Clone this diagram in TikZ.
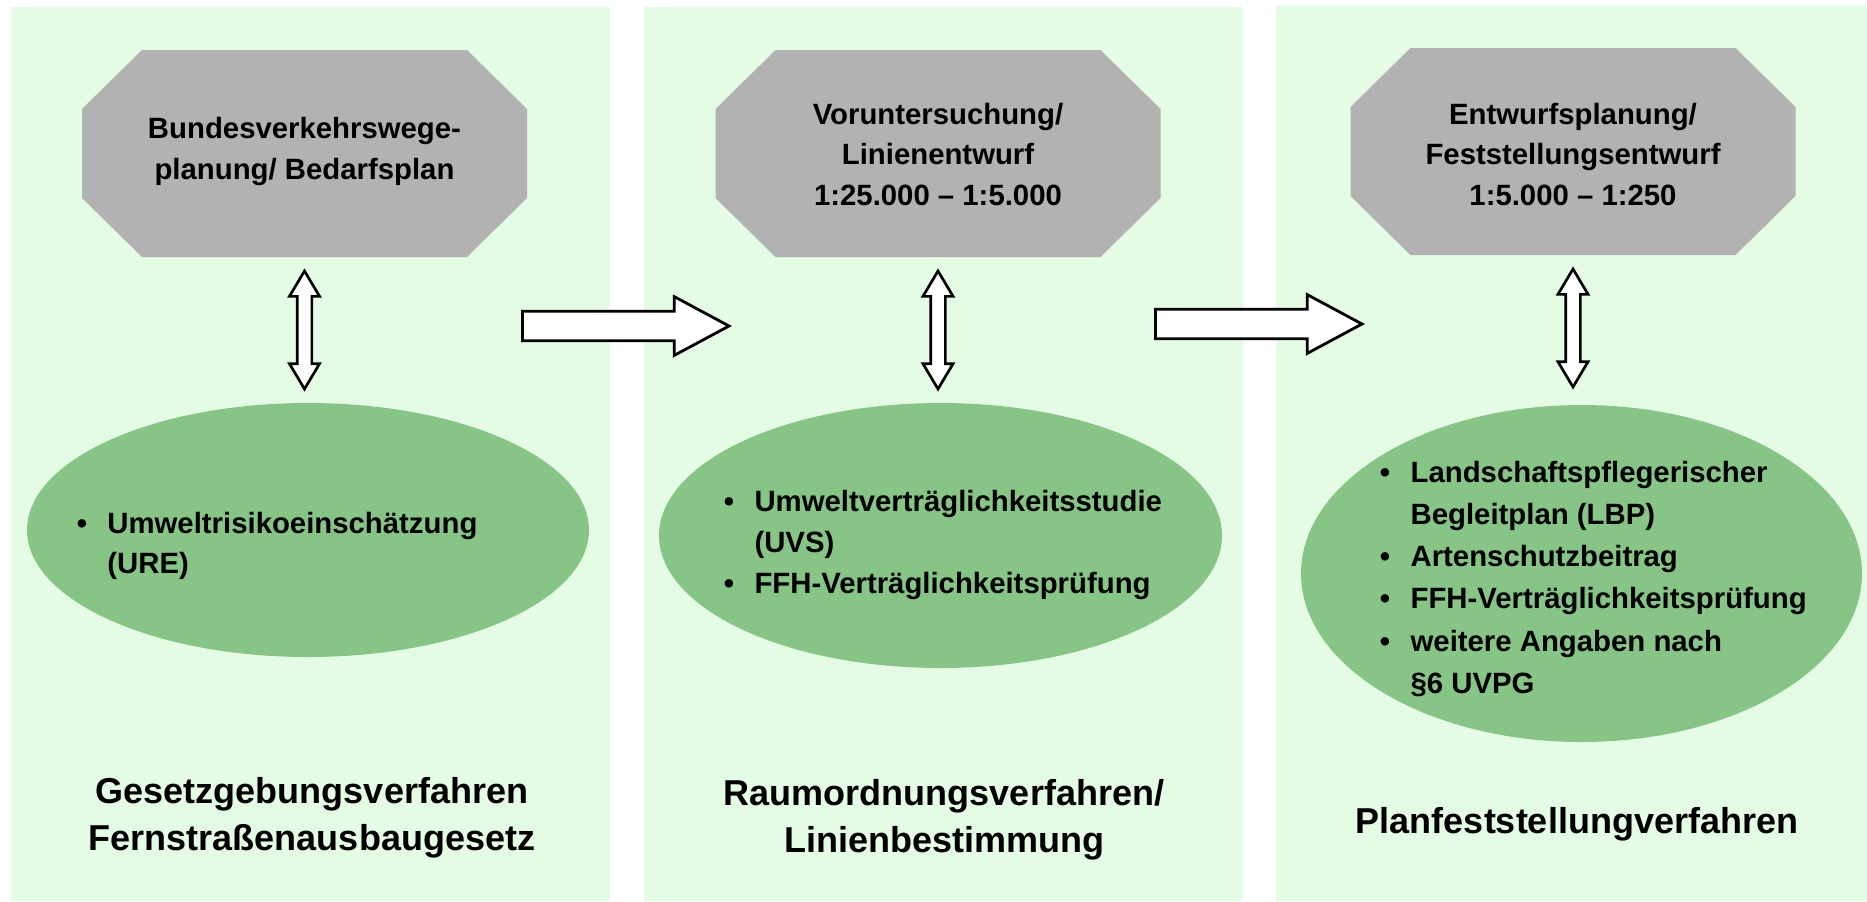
\documentclass[tikz,border=0pt]{standalone}
\usepackage{fontspec}
\setmainfont{Liberation Sans}
\usetikzlibrary{shapes.geometric,calc}
\definecolor{panelgreen}{RGB}{229,252,228}
\definecolor{ellgreen}{RGB}{134,197,134}
\definecolor{octgray}{RGB}{178,178,178}
\newcommand{\myitem}{\makebox[23pt][l]{\textbullet}}
\newcommand{\myindent}{\hspace*{23pt}}
\newcommand{\octshape}[1]{\fill[octfill] ($(#1.north west)+(60,0)$) -- ($(#1.north east)+(-60,0)$) -- ($(#1.north east)+(0,59)$) -- ($(#1.south east)+(0,-59)$) -- ($(#1.south east)+(-60,0)$) -- ($(#1.south west)+(60,0)$) -- ($(#1.south west)+(0,-59)$) -- ($(#1.north west)+(0,59)$) -- cycle;}
\newcommand{\harrowpath}[2]{\draw[harrow] let \p1=(#1), \p2=(#2) in
  (\x1,\y1+11pt) -- (\x2-41pt,\y1+11pt) -- (\x2-41pt,\y1+22pt) -- (\x2,\y1) -- (\x2-41pt,\y1-22pt) -- (\x2-41pt,\y1-11pt) -- (\x1,\y1-11pt) -- cycle;}
\newcommand{\vdarrow}[2]{\draw[varrow] let \p1=(#1), \p2=(#2) in
  (\x1,\y1) -- (\x1+11.3pt,\y1-19pt) -- (\x1+5.5pt,\y1-19pt) -- (\x1+5.5pt,\y2+19pt) -- (\x1+11.3pt,\y2+19pt) -- (\x1,\y2) -- (\x1-11.3pt,\y2+19pt) -- (\x1-5.5pt,\y2+19pt) -- (\x1-5.5pt,\y1-19pt) -- (\x1-11.3pt,\y1-19pt) -- cycle;}
\begin{document}
\begin{tikzpicture}[x=0.75pt,y=-0.75pt,
  panel/.style={rectangle, fill=panelgreen, draw=none, inner sep=0pt, outer sep=0pt},
  octbase/.style={rectangle, draw=none, inner sep=0pt, outer sep=0pt, minimum width=333.75pt, minimum height=155.25pt},
  octfill/.style={fill=octgray},
  ell/.style={ellipse, fill=ellgreen, draw=none, inner sep=0pt, outer sep=0pt},
  octtext/.style={align=center, inner sep=0pt, anchor=north, font={\fontsize{22}{30.5}\selectfont\bfseries}},
  listtext/.style={align=left, inner sep=0pt, anchor=north west, font={\fontsize{22}{31}\selectfont\bfseries}},
  labeltext/.style={align=center, inner sep=0pt, anchor=north, font={\fontsize{27}{35}\selectfont\bfseries}},
  harrow/.style={draw=black, line width=2.1pt, fill=white, line join=miter},
  varrow/.style={draw=black, line width=2pt, fill=white, line join=miter}]
\fill[white] (0,0) rectangle (1867,901);
\useasboundingbox (0,0) rectangle (1867,901);
% panels
\node[panel, minimum width=449.25pt, minimum height=670.5pt] (p1) at (310.5,454) {};
\node[panel, minimum width=449.25pt, minimum height=670.5pt] (p2) at (943.5,454) {};
\node[panel, minimum width=443.25pt, minimum height=672pt] (p3) at (1571.5,453) {};
% ellipses
\node[ell, minimum width=421.5pt, minimum height=190.5pt] (e1) at (308,530) {};
\node[ell, minimum width=422.25pt, minimum height=198.75pt] (e2) at (940.5,535.5) {};
\node[ell, minimum width=420.75pt, minimum height=252.75pt] (e3) at (1581.5,573.5) {};
% octagons
\node[octbase] (o1) at (304.5,153.5) {};
\octshape{o1}
\node[octbase] (o2) at (938,153.5) {};
\octshape{o2}
\node[octbase] (o3) at (1573,151.5) {};
\octshape{o3}
% octagon texts
\node[octtext] (ot1) at (304.5,117) {Bundesverkehrswege-\\planung/ Bedarfsplan};
\node[octtext] (ot2) at (938,102.5) {Voruntersuchung/\\Linienentwurf\\1:25.000 – 1:5.000};
\node[octtext] (ot3) at (1573,102.5) {Entwurfsplanung/\\Feststellungsentwurf\\1:5.000 – 1:250};
% list texts
\node[listtext, font={\fontsize{22}{30}\selectfont\bfseries}] (lt1) at (76.5,511.5) {\myitem Umweltrisikoeinschätzung\\\myindent (URE)};
\node[listtext, font={\fontsize{22}{31.1}\selectfont\bfseries}] (lt2) at (723.6,489.5) {\myitem Umweltverträglichkeitsstudie\\\myindent (UVS)\\\myitem FFH-Verträglichkeitsprüfung};
\node[listtext, font={\fontsize{22}{31.7}\selectfont\bfseries}] (lt3) at (1379.7,460.5) {\myitem Landschaftspflegerischer\\\myindent Begleitplan (LBP)\\\myitem Artenschutzbeitrag\\\myitem FFH-Verträglichkeitsprüfung\\\myitem weitere Angaben nach\\\myindent §6 UVPG};
% bottom labels
\node[labeltext] (l1) at (312,777) {Gesetzgebungsverfahren\\Fernstraßenausbaugesetz};
\node[labeltext] (l2) at (944,779) {Raumordnungsverfahren/\\Linienbestimmung};
\node[labeltext] (l3) at (1577,807) {Planfeststellungverfahren};
% horizontal arrows
\coordinate (h1s) at (522.5,326);
\coordinate (h1e) at (729,326);
\harrowpath{h1s}{h1e}
\coordinate (h2s) at (1155.5,324);
\coordinate (h2e) at (1362,324);
\harrowpath{h2s}{h2e}
% vertical double arrows
\vdarrow{$(o1.south)+(0,14)$}{$(e1.north)+(0,-14)$}
\vdarrow{$(o2.south)+(0,14)$}{$(e2.north)+(0,-14)$}
\vdarrow{$(o3.south)+(0,14)$}{$(e3.north)+(0,-18)$}
\end{tikzpicture}
\end{document}
